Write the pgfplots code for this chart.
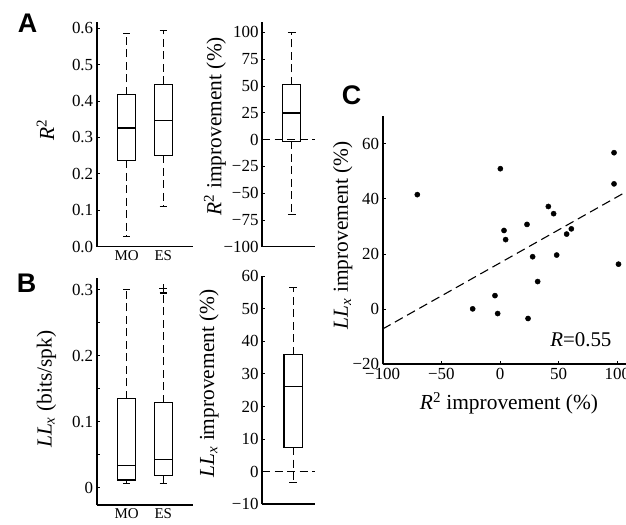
\documentclass[border=0pt]{standalone}
\usepackage{fontspec}
\setmainfont{Liberation Serif}
\newfontfamily\panelfont{Liberation Sans}
\usepackage{pgfplots}
\pgfplotsset{compat=1.18}
\usepgfplotslibrary{statistics}

\pgfplotsset{
  panel/.style={
    scale only axis,
    axis x line*=bottom, axis y line*=left,
    axis line style={line width=1.6bp, -},
    tick align=inside,
    major tick length=3bp,
    minor tick length=0bp,
    tick style={line width=0.8bp, black},
    tick label style={font=\fontsize{17}{17}\selectfont},
    label style={font=\fontsize{21.5}{22}\selectfont},
    ylabel style={anchor=center},
  },
  boxaxis/.style={
    panel,
    major x tick style={draw=none},
    xticklabel style={font=\fontsize{15}{15}\selectfont},
    boxplot/draw direction=y,
  },
  bxp/.style={black, line width=1.1bp, solid, mark=+,
    mark options={solid, line width=1.1bp}, mark size=4bp,
    boxplot/every whisker/.style={dash pattern=on 8bp off 4.5bp}},
  zeroline/.style={black, line width=1.1bp, dash pattern=on 8bp off 4.5bp},
}

\begin{document}
\begin{tikzpicture}

% ---- A, left: R^2 for MO and ES
\begin{axis}[boxaxis, at={(96.7bp,278.3bp)}, anchor=south west,
  width=96.6bp, height=225bp,
  xmin=0.18, xmax=2.82, ymin=0, ymax=0.618,
  xtick={1,2}, xticklabels={MO,ES},
  ytick={0,0.1,0.2,0.3,0.4,0.5,0.6},
  yticklabels={0.0,0.1,0.2,0.3,0.4,0.5,0.6},
  ylabel={\textit{R}\textsuperscript{2}},
  ylabel style={at={(axis description cs:-0.53,0.52)}}]
\addplot[bxp, boxplot prepared={draw position=1, lower whisker=0.027,
  lower quartile=0.237, median=0.326, upper quartile=0.418,
  upper whisker=0.586, box extend=0.48, whisker extend=0.2}] coordinates {};
\addplot[bxp, boxplot prepared={draw position=2, lower whisker=0.110,
  lower quartile=0.251, median=0.347, upper quartile=0.446,
  upper whisker=0.594, box extend=0.48, whisker extend=0.2}] coordinates {};
\end{axis}

% ---- A, right: R^2 improvement
\begin{axis}[boxaxis, at={(262bp,278.3bp)}, anchor=south west,
  width=53bp, height=225bp,
  xmin=0, xmax=1, ymin=-100, ymax=110,
  xtick=\empty,
  ytick={-100,-75,-50,-25,0,25,50,75,100},
  yticklabels={−100,−75,−50,−25,0,25,50,75,100},
  ylabel={\textit{R}\textsuperscript{2} improvement (\%)},
  ylabel style={at={(axis description cs:-0.887,0.536)}}]
\addplot[zeroline] coordinates {(0,0) (1,0)};
\addplot[bxp, boxplot prepared={draw position=0.56, lower whisker=-70,
  lower quartile=-1.6, median=24.8, upper quartile=51,
  upper whisker=100, box extend=0.34, whisker extend=0.145}] coordinates {};
\end{axis}

% ---- B, left: LLx for MO and ES
\begin{axis}[boxaxis, at={(96.7bp,20bp)}, anchor=south west,
  width=96.6bp, height=227bp,
  xmin=0.18, xmax=2.82, ymin=-0.0262, ymax=0.3177,
  xtick={1,2}, xticklabels={MO,ES},
  ytick={0,0.05,0.1,0.15,0.2,0.25,0.3},
  yticklabels={0,,0.1,,0.2,,0.3},
  ylabel={\textit{LL}\textsubscript{\textit{x}} (bits/spk)},
  ylabel style={at={(axis description cs:-0.52,0.51)}}]
\addplot[bxp, boxplot prepared={draw position=1, lower whisker=0.0067,
  lower quartile=0.0116, median=0.034, upper quartile=0.135,
  upper whisker=0.300, box extend=0.48, whisker extend=0.2}] coordinates {};
\addplot[bxp, boxplot prepared={draw position=2, lower whisker=0.0067,
  lower quartile=0.019, median=0.043, upper quartile=0.129,
  upper whisker=0.295, box extend=0.48, whisker extend=0.2}]
  coordinates {(0,0.302)};
\end{axis}

% ---- B, right: LLx improvement
\begin{axis}[boxaxis, at={(262bp,20.7bp)}, anchor=south west,
  width=53bp, height=228.3bp,
  xmin=0, xmax=1, ymin=-10, ymax=60,
  xtick=\empty,
  ytick={-10,0,10,20,30,40,50,60},
  yticklabels={−10,0,10,20,30,40,50,60},
  ylabel={\textit{LL}\textsubscript{\textit{x}} improvement (\%)},
  ylabel style={at={(axis description cs:-1.0,0.53)}}]
\addplot[zeroline] coordinates {(0,0) (1,0)};
\addplot[bxp, boxplot prepared={draw position=0.59, lower whisker=-3.3,
  lower quartile=7.5, median=26.2, upper quartile=35.9,
  upper whisker=56.6, box extend=0.35, whisker extend=0.145}] coordinates {};
\end{axis}

% ---- C: scatter of the two improvements
\begin{axis}[panel, at={(382.7bp,160.7bp)}, anchor=south west,
  width=243.3bp, height=248.3bp,
  xmin=-100, xmax=107.4, ymin=-20, ymax=70,
  xtick={-100,-50,0,50,100}, xticklabels={−100,−50,0,50,100},
  ytick={-20,0,20,40,60}, yticklabels={−20,0,20,40,60},
  xlabel={\textit{R}\textsuperscript{2} improvement (\%)},
  ylabel={\textit{LL}\textsubscript{\textit{x}} improvement (\%)},
  xlabel style={at={(axis description cs:0.519,-0.157)}, anchor=center},
  ylabel style={at={(axis description cs:-0.164,0.52)}},
  clip=false]
\addplot[only marks, mark=*, mark size=2.6bp, black] coordinates {
  (-70.5,41.5) (0.3,50.9) (97.2,56.7) (97.2,45.4) (41.2,37.2)
  (45.7,34.6) (23.0,30.7) (3.4,28.5) (4.8,25.2) (56.8,27.2)
  (60.8,29.1) (27.8,19.0) (48.3,19.6) (101,16.3) (32.1,10.0)
  (-4.3,4.9) (-23.3,0.1) (-2.0,-1.6) (23.9,-3.4)};
\addplot[black, line width=1.1bp, dash pattern=on 9bp off 5bp]
  coordinates {(-100,-7.2) (107.4,42.5)};
\node[anchor=east, font=\fontsize{21}{21}\selectfont]
  at (axis cs:98,-11.2) {\textit{R}=0.55};
\end{axis}

\node[anchor=base, font=\fontsize{27}{27}\panelfont\bfseries] at (27.5bp,492bp) {A};
\node[anchor=base, font=\fontsize{27}{27}\panelfont\bfseries] at (26.5bp,232bp) {B};
\node[anchor=base, font=\fontsize{27}{27}\panelfont\bfseries] at (351.5bp,420bp) {C};

\pgfresetboundingbox
\useasboundingbox (0bp,0bp) rectangle (626bp,525bp);
\end{tikzpicture}
\end{document}
